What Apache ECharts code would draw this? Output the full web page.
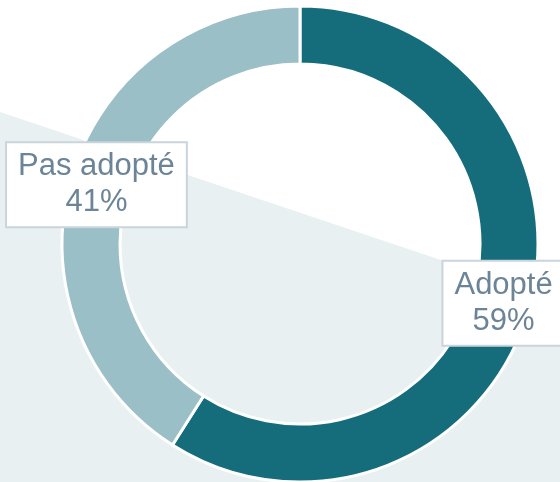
<!DOCTYPE html>
<html>
<head>
<meta charset="utf-8">
<script src="https://cdn.jsdelivr.net/npm/echarts@6/dist/echarts.min.js"></script>
<style>
  html, body { margin: 0; padding: 0; background: #ffffff; }
  #chart { width: 560px; height: 482px; }
</style>
</head>
<body>
<div id="chart"></div>
<script>
// données du graphique
const categories = ['Adopté', 'Pas adopté'];
const values = [59, 41];
const colors = ['#156d7c', '#9bbfc7'];

const chart = echarts.init(document.getElementById('chart'));

const option = {
    animation: false,
    backgroundColor: '#ffffff',
    // fond décoratif en biais
    graphic: [{
        type: 'polygon',
        z: -10,
        shape: { points: [[0, 112], [560, 300], [560, 482], [0, 482]] },
        style: { fill: '#e8f0f2' }
    }],
    series: [{
        type: 'pie',
        center: [300, 244],
        radius: [180, 238],
        startAngle: 90,
        clockwise: true,
        itemStyle: {
            borderColor: '#ffffff',
            borderWidth: 3
        },
        label: {
            show: true,
            position: 'inside',
            formatter: '{b}\n{c}%',
            fontFamily: 'Liberation Sans, Arial, sans-serif',
            fontSize: 31,
            lineHeight: 36,
            color: '#6b8497',
            backgroundColor: '#ffffff',
            borderColor: '#c9d4dc',
            borderWidth: 2,
            padding: [6, 11, 5, 11],
            align: 'center'
        },
        labelLine: { show: false },
        data: categories.map((name, i) => ({
            name: name,
            value: values[i],
            itemStyle: { color: colors[i] }
        }))
    }]
};

chart.setOption(option);
</script>
</body>
</html>
